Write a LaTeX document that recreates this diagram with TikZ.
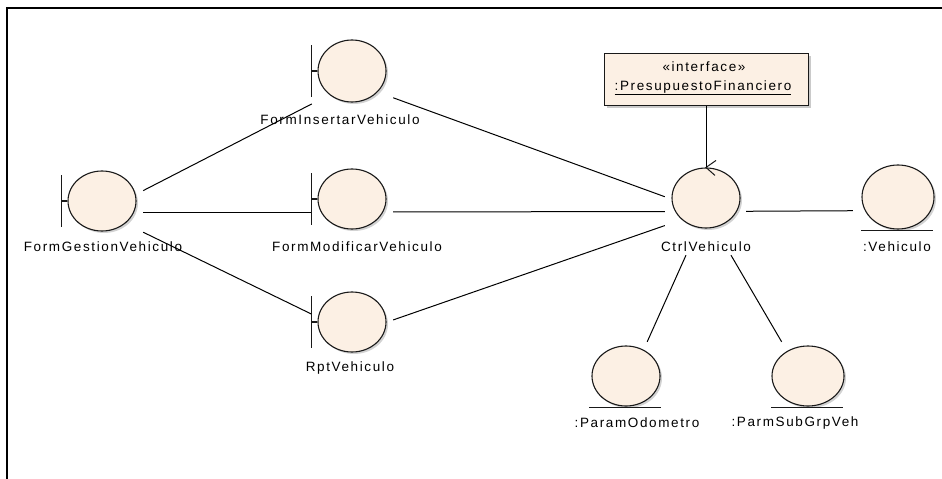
\documentclass[tikz,border=0pt]{standalone}
\usepackage{fontspec}
\newfontfamily\eafont{Liberation Sans}[LetterSpace=12]
\usetikzlibrary{shapes.geometric,shadows,positioning,calc}
\definecolor{eafill}{RGB}{252,240,228}
\definecolor{eaedge}{RGB}{25,25,25}

\tikzset{
  obj/.style={ellipse,draw=eaedge,fill=eafill,line width=1.1pt,inner sep=0pt,
    minimum width=68pt,minimum height=60pt,
    drop shadow={shadow xshift=2pt,shadow yshift=-2pt,fill=black!35,opacity=0.5}},
  elem/.style={rectangle,inner sep=0pt,draw=none},
  lbl/.style={font=\eafont\fontsize{13.5}{15}\selectfont,inner sep=0pt},
  link/.style={line width=1pt,draw=black},
}

\begin{document}
\begin{tikzpicture}[x=1pt,y=-1pt]
  \useasboundingbox (0,0) rectangle (942,479);
  \draw[line width=2.5pt] (7,479) -- (7,8) -- (942,8);

  % element boxes, used for routing the connectors
  \node[elem,minimum width=83,minimum height=80] (fgvbox) at (101.5,212) {};
  \node[elem,minimum width=81,minimum height=86] (fivbox) at (352.5,83) {};
  \node[elem,minimum width=81,minimum height=84] (fmvbox) at (352.5,212) {};
  \node[elem,minimum width=81,minimum height=82] (rptbox) at (352.5,334) {};
  \node[elem,minimum width=81,minimum height=87] (ctrlbox) at (705.5,211.5) {};
  \node[elem,minimum width=82,minimum height=95] (vehbox) at (894,210.5) {};
  \node[elem,minimum width=80,minimum height=90] (pobox) at (627,387) {};
  \node[elem,minimum width=80,minimum height=90] (psgbox) at (808,387) {};

  \draw[link] (fgvbox) -- (fivbox);
  \draw[link] (fgvbox) -- (fmvbox);
  \draw[link] (fgvbox) -- (rptbox);
  \draw[link] (fivbox) -- (ctrlbox);
  \draw[link] (fmvbox) -- (ctrlbox);
  \draw[link] (rptbox) -- (ctrlbox);
  \draw[link] (ctrlbox) -- (vehbox);
  \draw[link] (ctrlbox) -- (pobox);
  \draw[link] (ctrlbox) -- (psgbox);

  % boundaries
  \node[obj] (fgv) at (102,201) {};
  \node[obj,minimum height=62] (fiv) at (352,71) {};
  \node[obj] (fmv) at (352,199) {};
  \node[obj] (rpt) at (352,322) {};
  \foreach \b in {fgv,fiv,fmv,rpt}{
    \draw[eaedge,line width=1.1pt] (\b.west) -- ++(-6,0) ++(0,-26) -- ++(0,52);
  }
  \node[lbl] (fgvlbl) at (103,247) {FormGestionVehiculo};
  \node[lbl] (fivlbl) at (340,120) {FormInsertarVehiculo};
  \node[lbl] (fmvlbl) at (357,247) {FormModificarVehiculo};
  \node[lbl] (rptlbl) at (350,368) {RptVehiculo};

  % control
  \node[obj] (ctrl) at (706,198) {};
  \draw[eaedge,line width=1pt] ($(ctrl.north)+(10,-7)$) -- (ctrl.north) -- ++(9,8);
  \node[lbl] (ctrllbl) at (706,247) {CtrlVehiculo};

  % entities
  \node[obj,minimum width=72,minimum height=64] (veh) at (898,197) {};
  \node[obj,minimum width=68,minimum height=60] (po) at (626,376) {};
  \node[obj,minimum width=72,minimum height=60] (psg) at (808,376) {};
  \foreach \e in {veh,po,psg}{
    \draw[eaedge,line width=1.2pt] ($(\e.south)+(-37,1)$) -- ++(72,0);
  }
  \node[lbl] (vehlbl) at (897,247) {:Vehiculo};
  \node[lbl] (polbl) at (637,423) {:ParamOdometro};
  \node[lbl] (psglbl) at (795,423) {:ParmSubGrpVeh};

  % interface
  \node[rectangle,draw=eaedge,fill=eafill,line width=1pt,minimum width=204,minimum height=52,
    drop shadow={shadow xshift=3pt,shadow yshift=-3pt,fill=black!35,opacity=0.6}] (pf) at (706,79) {};
  \node[lbl] (pfst) at (704,67) {«interface»};
  \node[lbl] (pfname) at (703,88) {\underline{:PresupuestoFinanciero}};
  \draw[link] (pf.south) -- (ctrl.north);
\end{tikzpicture}
\end{document}
